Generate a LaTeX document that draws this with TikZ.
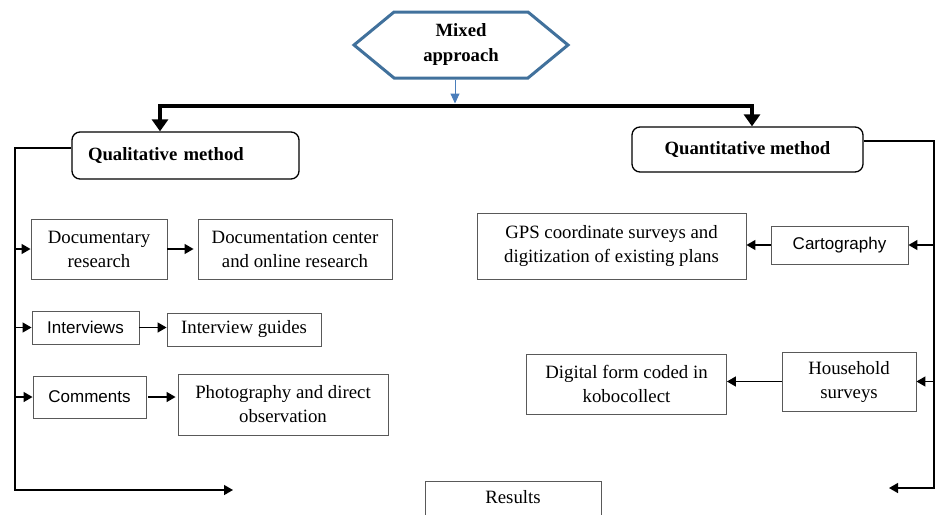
\documentclass[tikz,border=0pt]{standalone}
\usepackage{fontspec}
\setmainfont{Liberation Serif}
\setsansfont{Liberation Sans}
\usetikzlibrary{arrows.meta,shapes.symbols}
\definecolor{hexblue}{RGB}{65,113,156}
\definecolor{arrblue}{RGB}{74,126,187}

\begin{document}
\begin{tikzpicture}[x=1pt,y=-1pt,
    hexa/.style={shape=signal,signal to=east and west,signal pointer angle=79,
      draw=hexblue,line width=3pt,minimum width=214pt,minimum height=66pt,
      inner sep=0pt,align=center,font=\bfseries\fontsize{18.7}{25}\selectfont},
    box/.style={draw=black!65,line width=0.9pt,align=center,inner sep=2pt,
      font=\fontsize{18.8}{24}\selectfont},
    sbox/.style={box,font=\sffamily\fontsize{17}{20}\selectfont},
    rbox/.style={draw=black,line width=1.3pt,rounded corners=8pt,
      font=\bfseries\fontsize{18.7}{22}\selectfont},
    arr/.style={line width=1.4pt,-{Triangle[length=9pt,width=10pt]}},
    bigarr/.style={line width=4.5pt,line join=miter,
      {Triangle[length=12pt,width=16pt]}-{Triangle[length=12pt,width=16pt]}},
    bluearr/.style={draw=arrblue,line width=1pt,shorten >=2.5pt,
      -{Triangle[length=10pt,width=9pt]}}]
  \useasboundingbox (0,0) rectangle (936,514);
  \clip (0,0) rectangle (936,514);

  % top of the tree
  \node[hexa] (mix) at (461,45) {Mixed\\approach};
  \coordinate (bl) at (160,106);
  \coordinate (br) at (752,106);

  \node[rbox,text width=195pt,inner xsep=16pt,align=left,minimum height=47pt] (qual) at (185.5,155.5) {Qualitative method};
  \node[rbox,minimum width=231pt,minimum height=45pt] (quant) at (747.5,149.5) {Quantitative method};

  % qualitative side
  \node[box,minimum width=136pt,minimum height=60pt] (doc) at (99,249) {Documentary\\research};
  \node[box,minimum width=194pt,minimum height=60pt] (docc) at (295,249) {Documentation center\\and online research};
  \node[sbox,minimum width=107pt,minimum height=33pt] (intv) at (85.5,327.5) {Interviews};
  \node[box,minimum width=154pt,minimum height=33pt] (guide) at (244,329.5) {Interview guides};
  \node[sbox,minimum width=113pt,minimum height=42pt] (comm) at (89.5,397) {Comments};
  \node[box,minimum width=210pt,minimum height=61pt] (photo) at (283,404.5) {Photography and direct\\observation};

  % quantitative side
  \node[box,minimum width=269pt,minimum height=66pt] (gps) at (611.5,246) {GPS coordinate surveys and\\digitization of existing plans};
  \node[sbox,minimum width=137pt,minimum height=38pt] (carto) at (839.5,245) {Cartography};
  \node[box,minimum width=200pt,minimum height=60pt] (digi) at (626.5,384) {Digital form coded in\\kobocollect};
  \node[box,minimum width=134pt,minimum height=59pt] (house) at (849,381.5) {Household\\surveys};

  \node[box,anchor=north,minimum width=176pt,text height=14pt,text depth=30pt,inner ysep=8pt] (res) at (513,481) {Results};

  \coordinate (lbot) at (15,490);
  \coordinate (lend) at (233,490);
  \coordinate (rbot) at (934,488);
  \coordinate (rend) at (889,488);

  % connectors
  \draw[bluearr] ([xshift=-6pt]mix.south) -- ([xshift=-6pt]mix.south |- bl);
  \draw[bigarr] (bl |- qual.north) -- (bl) -- (br) -- (br |- quant.north);

  \draw[arr] ([yshift=7.5pt]qual.west) -| (lbot) -- (lend);
  \draw[arr] (doc.west -| lbot) -- (doc.west);
  \draw[arr] (intv.west -| lbot) -- (intv.west);
  \draw[arr] (comm.west -| lbot) -- (comm.west);
  \draw[arr,shorten >=4pt] (doc.east) -- (doc.east -| docc.west);
  \draw[arr] (intv.east) -- (intv.east -| guide.west);
  \draw[arr,shorten <=2pt,shorten >=2pt] (comm.east) -- (comm.east -| photo.west);

  \draw[arr] ([yshift=8.5pt]quant.east) -| (rbot) -- (rend);
  \draw[arr] (carto.east -| rbot) -- (carto.east);
  \draw[arr] (house.east -| rbot) -- (house.east);
  \draw[arr] (carto.west) -- (carto.west -| gps.east);
  \draw[arr] (house.west) -- (house.west -| digi.east);
\end{tikzpicture}
\end{document}
